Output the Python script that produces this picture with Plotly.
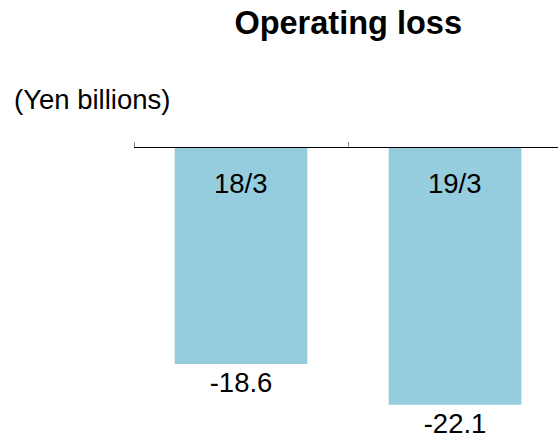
import plotly.graph_objects as go

periods = ["18/3", "19/3"]
operating_loss = [-18.6, -22.1]
value_labels = ["-18.6", "-22.1"]

BAR_COLOR = "#95CDDE"
FONT = "Liberation Sans, Arial, sans-serif"
TEXT_SIZE = 27.5

fig = go.Figure(
    go.Bar(
        x=periods,
        y=operating_loss,
        width=0.62,
        marker={"color": BAR_COLOR, "line": {"width": 0}},
        text=value_labels,
        textposition="outside",
        textfont={"size": TEXT_SIZE, "color": "black", "family": FONT},
        cliponaxis=False,
        hoverinfo="skip",
    )
)

# period labels sit inside the bars, just under the axis line
for p in periods:
    fig.add_annotation(
        x=p, y=0, xref="x", yref="y", text=p, showarrow=False,
        yanchor="middle", yshift=-35,
        font={"size": TEXT_SIZE, "color": "black", "family": FONT},
    )

fig.add_annotation(
    x=-0.288, y=1.167, xref="paper", yref="paper", text="(Yen billions)",
    showarrow=False, xanchor="left", yanchor="middle",
    font={"size": TEXT_SIZE, "color": "black", "family": FONT},
)

fig.update_layout(
    title={
        "text": "<b>Operating loss</b>",
        "x": 0.624, "xref": "container", "xanchor": "center",
        "y": 1 - 23 / 436, "yref": "container", "yanchor": "middle",
        "font": {"size": 32.5, "color": "black", "family": FONT},
    },
    width=558,
    height=436,
    margin={"l": 134, "r": 0, "t": 148, "b": 0},
    paper_bgcolor="white",
    plot_bgcolor="white",
    showlegend=False,
    xaxis={
        "side": "top",
        "range": [-0.5, 1.481],
        "showline": True,
        "linecolor": "black",
        "linewidth": 1,
        "ticks": "outside",
        "tickson": "boundaries",
        "ticklen": 5,
        "tickcolor": "#888888",
        "showticklabels": False,
        "showgrid": False,
        "zeroline": False,
    },
    yaxis={
        "range": [-24.8, 0],
        "visible": False,
        "showgrid": False,
        "zeroline": False,
    },
)

# drop the default page margin so the figure fills the window exactly
fig.write_html(
    "out.html",
    config={"displayModeBar": False},
    post_script="document.body.style.margin='0';document.body.style.overflow='hidden';",
)
